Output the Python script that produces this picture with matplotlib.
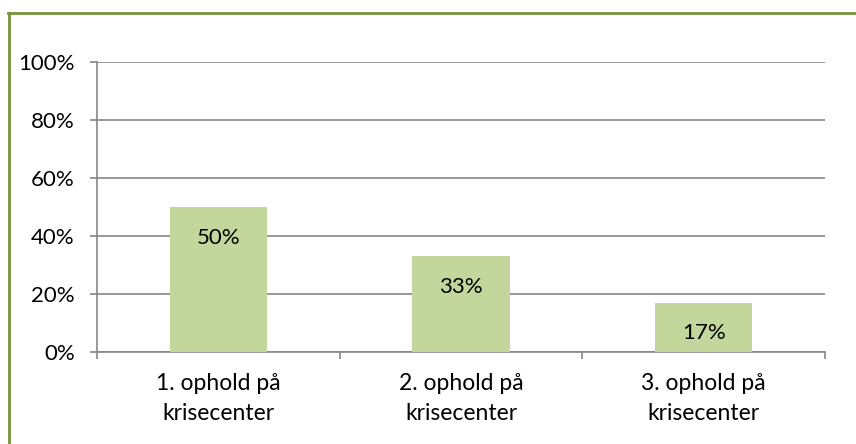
import matplotlib
matplotlib.use("Agg")
import matplotlib.pyplot as plt
from matplotlib.lines import Line2D
from matplotlib.ticker import FuncFormatter, MultipleLocator

categories = ["1. ophold på\nkrisecenter", "2. ophold på\nkrisecenter", "3. ophold på\nkrisecenter"]
values = [50, 33, 17]
labels = ["50%", "33%", "17%"]

plt.rcParams['font.family'] = ['Lato', 'DejaVu Sans']

W, H = 856, 444
fig = plt.figure(figsize=(W/100, H/100), dpi=100)
ax = fig.add_axes([97/W, 1-352/H, (825-97)/W, (352-62)/H])

grid_c = "#868686"
fs = 16
x = list(range(len(categories)))
ax.bar(x, values, width=0.4, color="#C3D69B", zorder=3)
for xi, v, lab in zip(x, values, labels):
    ax.annotate(lab, (xi, v), xytext=(0, -22), textcoords="offset points",
                ha="center", va="center", fontsize=fs, zorder=4)

ax.set_xlim(-0.5, len(categories) - 0.5)
ax.set_ylim(0, 100)
ax.yaxis.set_major_locator(MultipleLocator(20))
ax.yaxis.set_major_formatter(FuncFormatter(lambda v, p: f"{int(v)}%"))
ax.grid(axis="y", color=grid_c, linewidth=1.2, zorder=0)
ax.set_xticks([i - 0.5 for i in range(len(categories) + 1)], minor=False)
ax.set_xticklabels([])
ax.set_xticks(x, minor=True)
ax.set_xticklabels(categories, minor=True, fontsize=16.5, linespacing=1.55)
ax.tick_params(axis="x", which="minor", length=0, pad=15)
ax.tick_params(axis="x", which="major", length=5, color=grid_c, width=1.2)
ax.tick_params(axis="y", length=5, color=grid_c, width=1.2, labelsize=fs, pad=11)
for s in ["top", "right"]:
    ax.spines[s].set_visible(False)
for s in ["left", "bottom"]:
    ax.spines[s].set_color(grid_c)
    ax.spines[s].set_linewidth(1.2)

border = "#77933C"
fig.add_artist(Line2D([8/W, 1], [1-13/H, 1-13/H], color=border, linewidth=2, transform=fig.transFigure))
fig.add_artist(Line2D([9/W, 9/W], [0, 1-13/H], color=border, linewidth=2, transform=fig.transFigure))

fig.savefig("out.png", dpi=100, facecolor="white")
